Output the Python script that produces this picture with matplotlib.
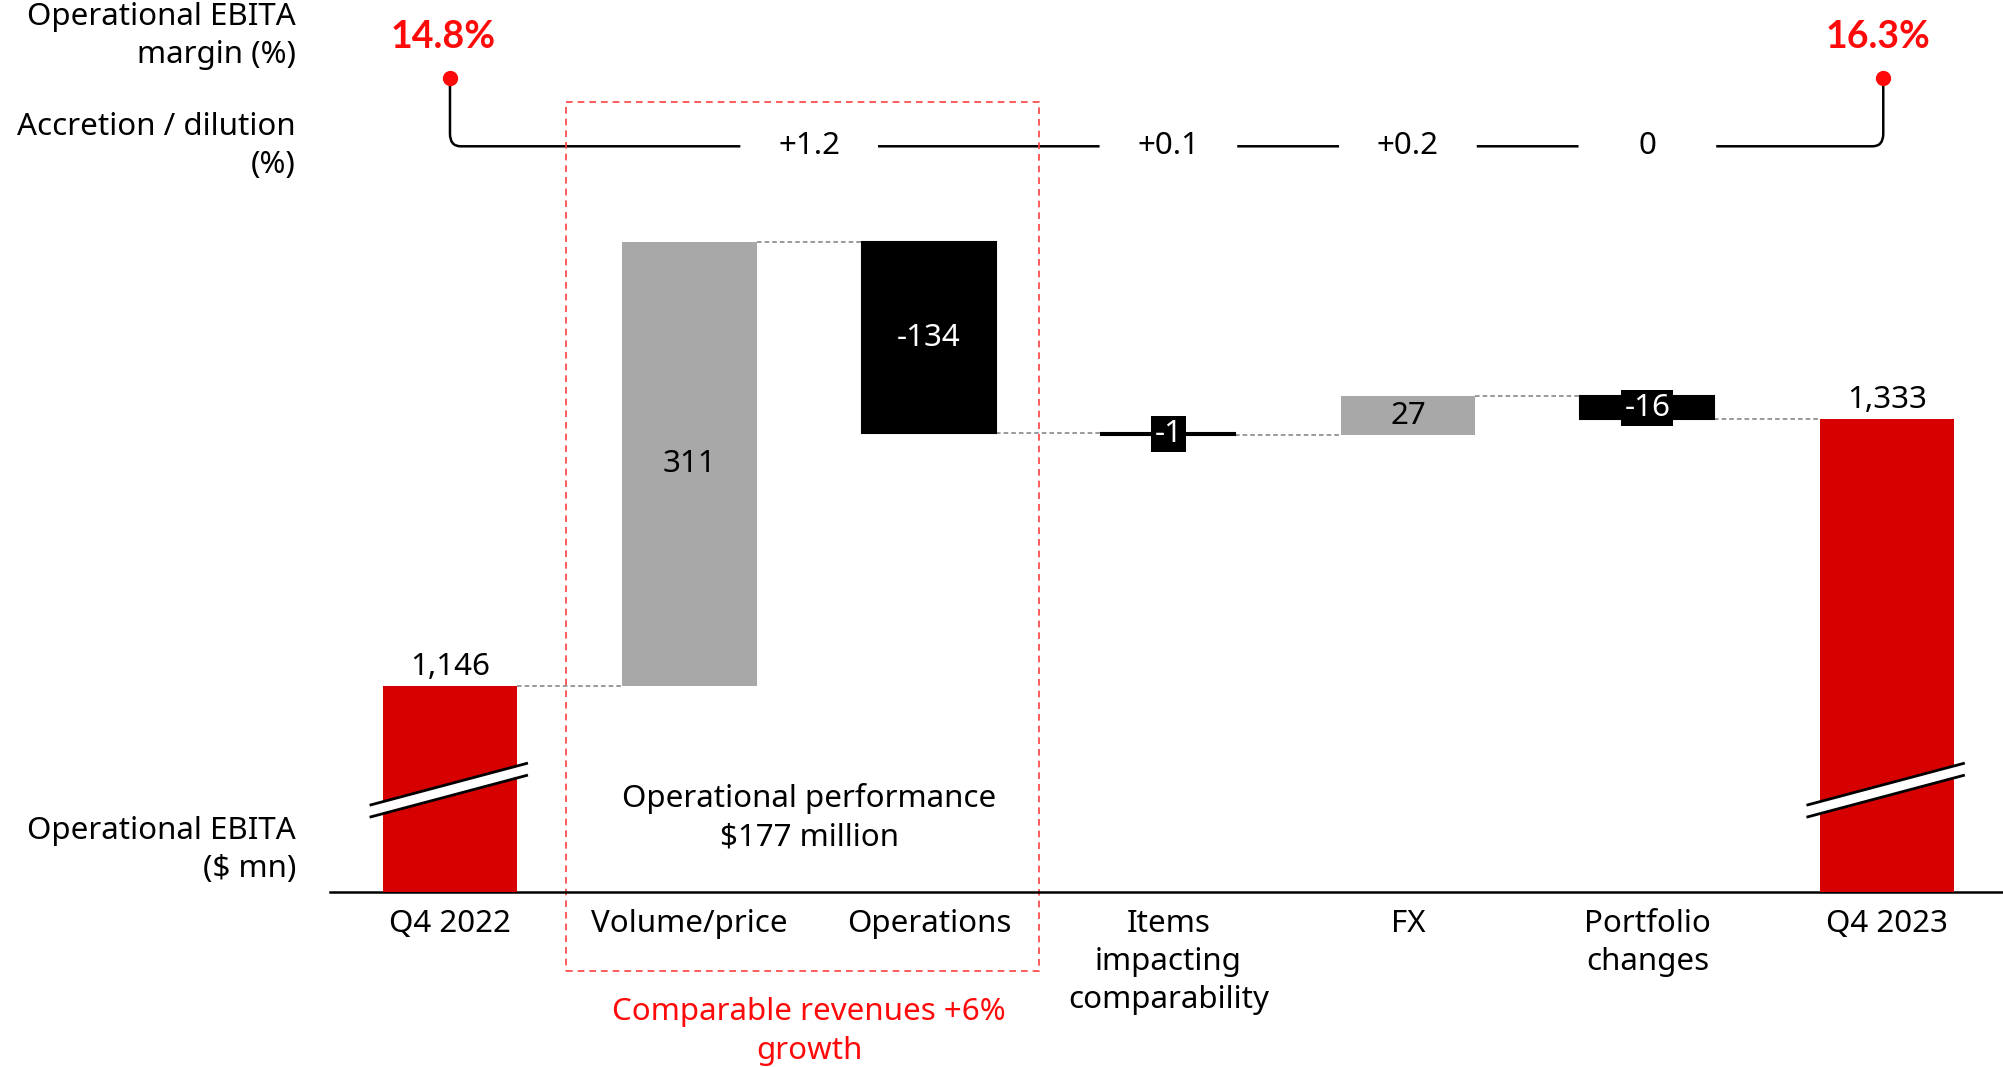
import numpy as np
import matplotlib
matplotlib.use('Agg')
import matplotlib.pyplot as plt
import matplotlib.transforms as mtransforms
from matplotlib.patches import Rectangle, Polygon, PathPatch
from matplotlib.path import Path

plt.rcParams['font.family'] = ['Noto Sans', 'DejaVu Sans']

# Data
categories = ['Q4 2022', 'Volume/price', 'Operations', 'Items\nimpacting\ncomparability',
              'FX', 'Portfolio\nchanges', 'Q4 2023']
values = [1146, 311, -134, -1, 27, -16, 1333]
kinds = ['total', 'delta', 'delta', 'delta', 'delta', 'delta', 'total']
value_labels = ['1,146', '311', '-134', '-1', '27', '-16', '1,333']
margin_start = '14.8%'
margin_end = '16.3%'
accretion_labels = ['+1.2', '+0.1', '+0.2', '0']
accretion_groups = [[1, 2], [3], [4], [5]]   # category indices each accretion value belongs to

RED = '#D70000'
BRIGHT_RED = '#FF0A0A'
GREY = '#A8A8A8'
FS = 22.5
LS = 1.36

axis_floor = 1002          # broken axis starts here
px_per_unit = 1.4286

fig = plt.figure(figsize=(20.03, 10.67), dpi=100)
ax_h = 892 / 1067
ax = fig.add_axes([330 / 2003, 1 - ax_h, 1 - 330 / 2003, ax_h])
x = np.arange(len(categories))
bar_w = 0.56
ax.set_xlim(-0.501, len(categories) - 1 + 0.485)
ax.set_ylim(axis_floor, axis_floor + 892 / px_per_unit)

# waterfall geometry
bottoms, tops, levels = [], [], []
running = 0
for v, k in zip(values, kinds):
    if k == 'total':
        b, t = axis_floor, v
        running = v
    else:
        b, t = running, running + v
        running += v
    bottoms.append(b)
    tops.append(t)
    levels.append(running)

colors = []
for v, k in zip(values, kinds):
    if k == 'total':
        colors.append(RED)
    elif v < 0:
        colors.append('black')
    else:
        colors.append(GREY)

heights = [t - b for b, t in zip(bottoms, tops)]
ax.bar(x, heights, bottom=bottoms, width=bar_w, color=colors, zorder=3)
# very small negative bars still show as a visible line
for i, v in enumerate(values):
    if kinds[i] == 'delta' and v < 0:
        ax.bar(x[i], heights[i], bottom=bottoms[i], width=bar_w, color='black',
               edgecolor='black', linewidth=1.5, zorder=3)

# connectors
for i in range(len(values) - 1):
    ax.plot([x[i] + bar_w / 2, x[i + 1] - bar_w / 2], [levels[i], levels[i]],
            color='#7F7F7F', lw=1.1, ls=(0, (3, 2)), zorder=2)

# value labels
for i, (v, k) in enumerate(zip(values, kinds)):
    if k == 'total':
        ax.annotate(value_labels[i], (x[i], tops[i]), xytext=(0, 3), textcoords='offset points',
                    ha='center', va='bottom', fontsize=FS, zorder=5)
    else:
        mid = (bottoms[i] + tops[i]) / 2
        if abs(v) < 20:
            ax.text(x[i], mid, value_labels[i], ha='center', va='center', fontsize=FS,
                    color='white', zorder=5,
                    bbox=dict(boxstyle='square,pad=0.1', fc='black', ec='none'))
        else:
            ax.text(x[i], mid, value_labels[i], ha='center', va='center', fontsize=FS,
                    color='white' if v < 0 else 'black', zorder=5)

# axis break marks on total bars
for i, k in enumerate(kinds):
    if k != 'total':
        continue
    xl, xr = x[i] - 0.33, x[i] + 0.32
    yl, yr, gap = 1063, 1092, 8.4
    ax.add_patch(Polygon([(xl, yl), (xr, yr), (xr, yr - gap), (xl, yl - gap)],
                         closed=True, fc='white', ec='none', zorder=4, clip_on=False))
    ax.plot([xl, xr], [yl, yr], color='black', lw=2, zorder=4, clip_on=False)
    ax.plot([xl, xr], [yl - gap, yr - gap], color='black', lw=2, zorder=4, clip_on=False)

# axes styling
for s in ['top', 'right', 'left']:
    ax.spines[s].set_visible(False)
ax.spines['bottom'].set_linewidth(1.8)
ax.set_yticks([])
ax.set_xticks(x, categories)
ax.tick_params(axis='x', length=0, pad=12, labelsize=FS)
for lab in ax.get_xticklabels():
    lab.set_multialignment('center')
    lab.set_linespacing(LS)

trans = mtransforms.blended_transform_factory(ax.transData, ax.transAxes)

# margin / accretion line on top
line_y, dot_y, pct_y = 0.836, 0.9126, 0.958
rx, ry = 0.045, 0.014
gap_centers = [np.mean(g) for g in accretion_groups]
gw = bar_w + 0.015
x_end = x[-1] - 0.015
verts = [(x[0], dot_y), (x[0], line_y + ry), (x[0], line_y), (x[0] + rx, line_y),
         (gap_centers[0] - gw / 2, line_y)]
codes = [Path.MOVETO, Path.LINETO, Path.CURVE3, Path.CURVE3, Path.LINETO]
for a, b in zip(gap_centers[:-1], gap_centers[1:]):
    verts += [(a + gw / 2, line_y), (b - gw / 2, line_y)]
    codes += [Path.MOVETO, Path.LINETO]
verts += [(gap_centers[-1] + gw / 2, line_y), (x_end - rx, line_y), (x_end, line_y),
          (x_end, line_y + ry), (x_end, dot_y)]
codes += [Path.MOVETO, Path.LINETO, Path.CURVE3, Path.CURVE3, Path.LINETO]
ax.add_patch(PathPatch(Path(verts, codes), transform=trans, fc='none', ec='black',
                       lw=1.8, clip_on=False))
ax.plot([x[0], x_end], [dot_y, dot_y], 'o', color=BRIGHT_RED, ms=10, transform=trans,
        clip_on=False, zorder=6)
bold_font = ['Lato', 'Open Sans', 'DejaVu Sans']
ax.text(x[0] - 0.03, pct_y, margin_start, transform=trans, ha='center', va='center',
        fontsize=27, fontweight='bold', color=BRIGHT_RED, family=bold_font)
ax.text(x_end - 0.02, pct_y, margin_end, transform=trans, ha='center', va='center',
        fontsize=27, fontweight='bold', color=BRIGHT_RED, family=bold_font)
for c, lab in zip(gap_centers, accretion_labels):
    ax.text(c, line_y, lab, transform=trans, ha='center', va='center', fontsize=FS)

# operational performance box
box_l, box_r = 0.486, 2.46
box_b, box_t = -0.0886, 0.886
ax.add_patch(Rectangle((box_l, box_b), box_r - box_l, box_t - box_b, transform=trans,
                       fill=False, ec='#FF4040', lw=1.2, ls=(0, (4, 3)), clip_on=False, zorder=1))
ax.text(1.5, 0.0834, 'Operational performance\n$177 million', transform=trans,
        ha='center', va='center', fontsize=FS, linespacing=LS)
ax.text(1.5, -0.1565, 'Comparable revenues +6%\ngrowth', transform=trans,
        ha='center', va='center', fontsize=FS, color=BRIGHT_RED, linespacing=LS)

# left-side row labels
lx = 296 / 2003
fig.text(lx, 0.966, 'Operational EBITA\nmargin (%)', ha='right', va='center', fontsize=FS,
         linespacing=LS)
fig.text(lx, 0.863, 'Accretion / dilution\n(%)', ha='right', va='center', fontsize=FS,
         linespacing=LS)
fig.text(lx, 0.2035, 'Operational EBITA\n($ mn)', ha='right', va='center', fontsize=FS,
         linespacing=LS)

fig.savefig('out.png', dpi=100)
